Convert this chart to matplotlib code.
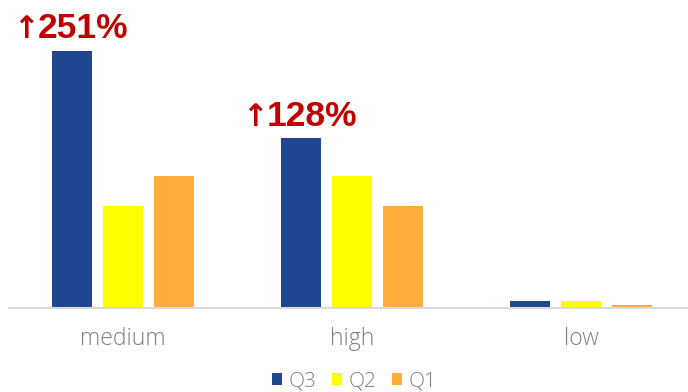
import numpy as np
import matplotlib.pyplot as plt

categories = ["medium", "high", "low"]
series = ["Q3", "Q2", "Q1"]
q3 = [257, 170, 7]
q2 = [102, 132, 7]
q1 = [132, 102, 3]
colors = ["#1F4690", "#FFFF00", "#FFAE3C"]
notes = {0: "251%", 1: "128%"}

fig = plt.figure(figsize=(6.88, 3.92), dpi=100)
# category axis runs a bit past the right edge
ax = fig.add_axes([8.5 / 688, 1 - 308 / 392, 687 / 688, 288 / 392])

x = np.arange(len(categories))
width = 0.175
step = 0.221
bars = []
for i, (vals, name) in enumerate(zip([q3, q2, q1], series)):
    b = ax.bar(x + (i - 1) * step, vals, width, color=colors[i], label=name)
    bars.append(b)

# growth callouts: bold arrow followed by the percentage
for idx, txt in notes.items():
    rect = bars[0][idx]
    xy = (rect.get_x() + rect.get_width() / 2, rect.get_height())
    ax.annotate("\u2191", xy, xytext=(-24, 9), textcoords="offset points",
                ha="right", va="baseline", color="#C00000", fontsize=22,
                fontweight="bold", family="DejaVu Sans")
    ax.annotate(txt, xy, xytext=(-25, 9), textcoords="offset points",
                ha="left", va="baseline", color="#C00000", fontsize=25.5,
                fontweight="bold", family="Liberation Sans")

ax.set_xlim(-0.5, 2.5)
ax.set_ylim(0, 288)
ax.set_xticks(x)
ax.set_xticklabels(categories, color="#7F7F7F", fontsize=16.5, family="Open Sans",
                   fontweight="light")
ax.tick_params(axis="x", length=0, pad=14)
ax.set_yticks([])
for s in ["top", "right", "left"]:
    ax.spines[s].set_visible(False)
ax.spines["bottom"].set_color("#D9D9D9")
ax.spines["bottom"].set_linewidth(1.5)

leg = fig.legend(loc="center", bbox_to_anchor=(354 / 688, 1 - 381 / 392), ncol=3,
                 frameon=False, handlelength=0.5, handleheight=0.5, handletextpad=0.3,
                 columnspacing=0.75, borderpad=0.2,
                 prop={"family": "Open Sans", "weight": "light", "size": 15})
for t in leg.get_texts():
    t.set_color("#7F7F7F")

fig.savefig("out.png", dpi=100)
